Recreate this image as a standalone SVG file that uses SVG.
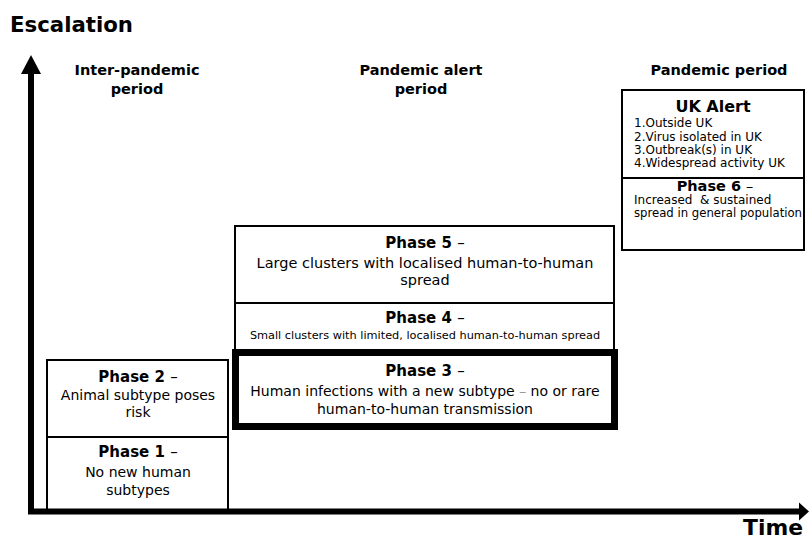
<svg xmlns="http://www.w3.org/2000/svg" width="812" height="540" viewBox="0 0 812 540">
<style>
text{font-family:"DejaVu Sans","Verdana",sans-serif;fill:#000}
.t{font-weight:bold;font-size:22px}
.h{font-weight:bold;font-size:14.5px;text-anchor:middle}
.pb{font-weight:bold;font-size:15px;text-anchor:middle}
.pb tspan.d{font-weight:normal}
.b{font-size:14.5px;text-anchor:middle}
.b2{font-size:14px;text-anchor:middle}
.s{font-size:11.3px;text-anchor:middle}
.l{font-size:12px}
.box{fill:#fff;stroke:#000;stroke-width:2}
.thick{fill:#fff;stroke:#000;stroke-width:7}
.ax{stroke:#000;stroke-width:6;fill:none}
</style>
<rect width="812" height="540" fill="#fff"/>
<text class="t" x="10" y="32" textLength="123" lengthAdjust="spacingAndGlyphs">Escalation</text>
<text class="t" x="803" y="535" text-anchor="end" textLength="60" lengthAdjust="spacingAndGlyphs">Time</text>
<g id="headers">
<text class="h" x="137" y="75">Inter-pandemic</text>
<text class="h" x="137" y="94">period</text>
<text class="h" x="421" y="75">Pandemic alert</text>
<text class="h" x="421" y="94">period</text>
<text class="h" x="719" y="75">Pandemic period</text>
</g>
<g id="phase2">
<rect class="box" x="47" y="360" width="181" height="77"/>
<text class="pb" x="138" y="382">Phase 2 <tspan class="d">–</tspan></text>
<text class="b2" x="138" y="400">Animal subtype poses</text>
<text class="b2" x="138" y="417">risk</text>
</g>
<g id="phase1">
<rect class="box" x="47" y="437" width="181" height="74"/>
<text class="pb" x="138" y="457">Phase 1 <tspan class="d">–</tspan></text>
<text class="b2" x="138" y="477">No new human</text>
<text class="b2" x="138" y="495">subtypes</text>
</g>
<g id="phase5">
<rect class="box" x="235" y="226" width="379" height="77"/>
<text class="pb" x="425" y="248">Phase 5 <tspan class="d">–</tspan></text>
<text class="b" x="425" y="268">Large clusters with localised human-to-human</text>
<text class="b" x="425" y="285">spread</text>
</g>
<g id="phase4">
<rect class="box" x="235" y="303" width="379" height="47"/>
<text class="pb" x="425" y="323">Phase 4 <tspan class="d">–</tspan></text>
<text class="s" x="425" y="339">Small clusters with limited, localised human-to-human spread</text>
</g>
<g id="phase3">
<rect class="thick" x="235.5" y="352.5" width="379" height="74"/>
<text class="pb" x="425" y="376">Phase 3 <tspan class="d">–</tspan></text>
<text class="b2" x="425" y="396">Human infections with a new subtype <tspan fill="#999">–</tspan> no or rare</text>
<text class="b2" x="425" y="414">human-to-human transmission</text>
</g>
<g id="ukalert">
<rect class="box" x="622" y="90" width="182" height="88"/>
<text class="pb" x="713" y="112" style="font-size:16px">UK Alert</text>
<text class="l" x="634" y="127">1.Outside UK</text>
<text class="l" x="634" y="141">2.Virus isolated in UK</text>
<text class="l" x="634" y="154">3.Outbreak(s) in UK</text>
<text class="l" x="634" y="167">4.Widespread activity UK</text>
</g>
<g id="phase6">
<rect class="box" x="622" y="178" width="182" height="72"/>
<text class="pb" x="715" y="191" style="font-size:14.5px">Phase 6 <tspan class="d">–</tspan></text>
<text class="l" x="634" y="204">Increased&#160; &amp; sustained</text>
<text class="l" x="634" y="217" textLength="168" lengthAdjust="spacingAndGlyphs">spread in general population</text>
</g>
<g id="connectors">
<line class="ax" x1="31" y1="72" x2="31" y2="514"/>
<polygon points="31,55 21,74 41,74" fill="#000"/>
<line class="ax" x1="28" y1="511.5" x2="801" y2="511.5"/>
<polygon points="809,511.5 799,502.5 799,520.5" fill="#000"/>
</g>
</svg>
